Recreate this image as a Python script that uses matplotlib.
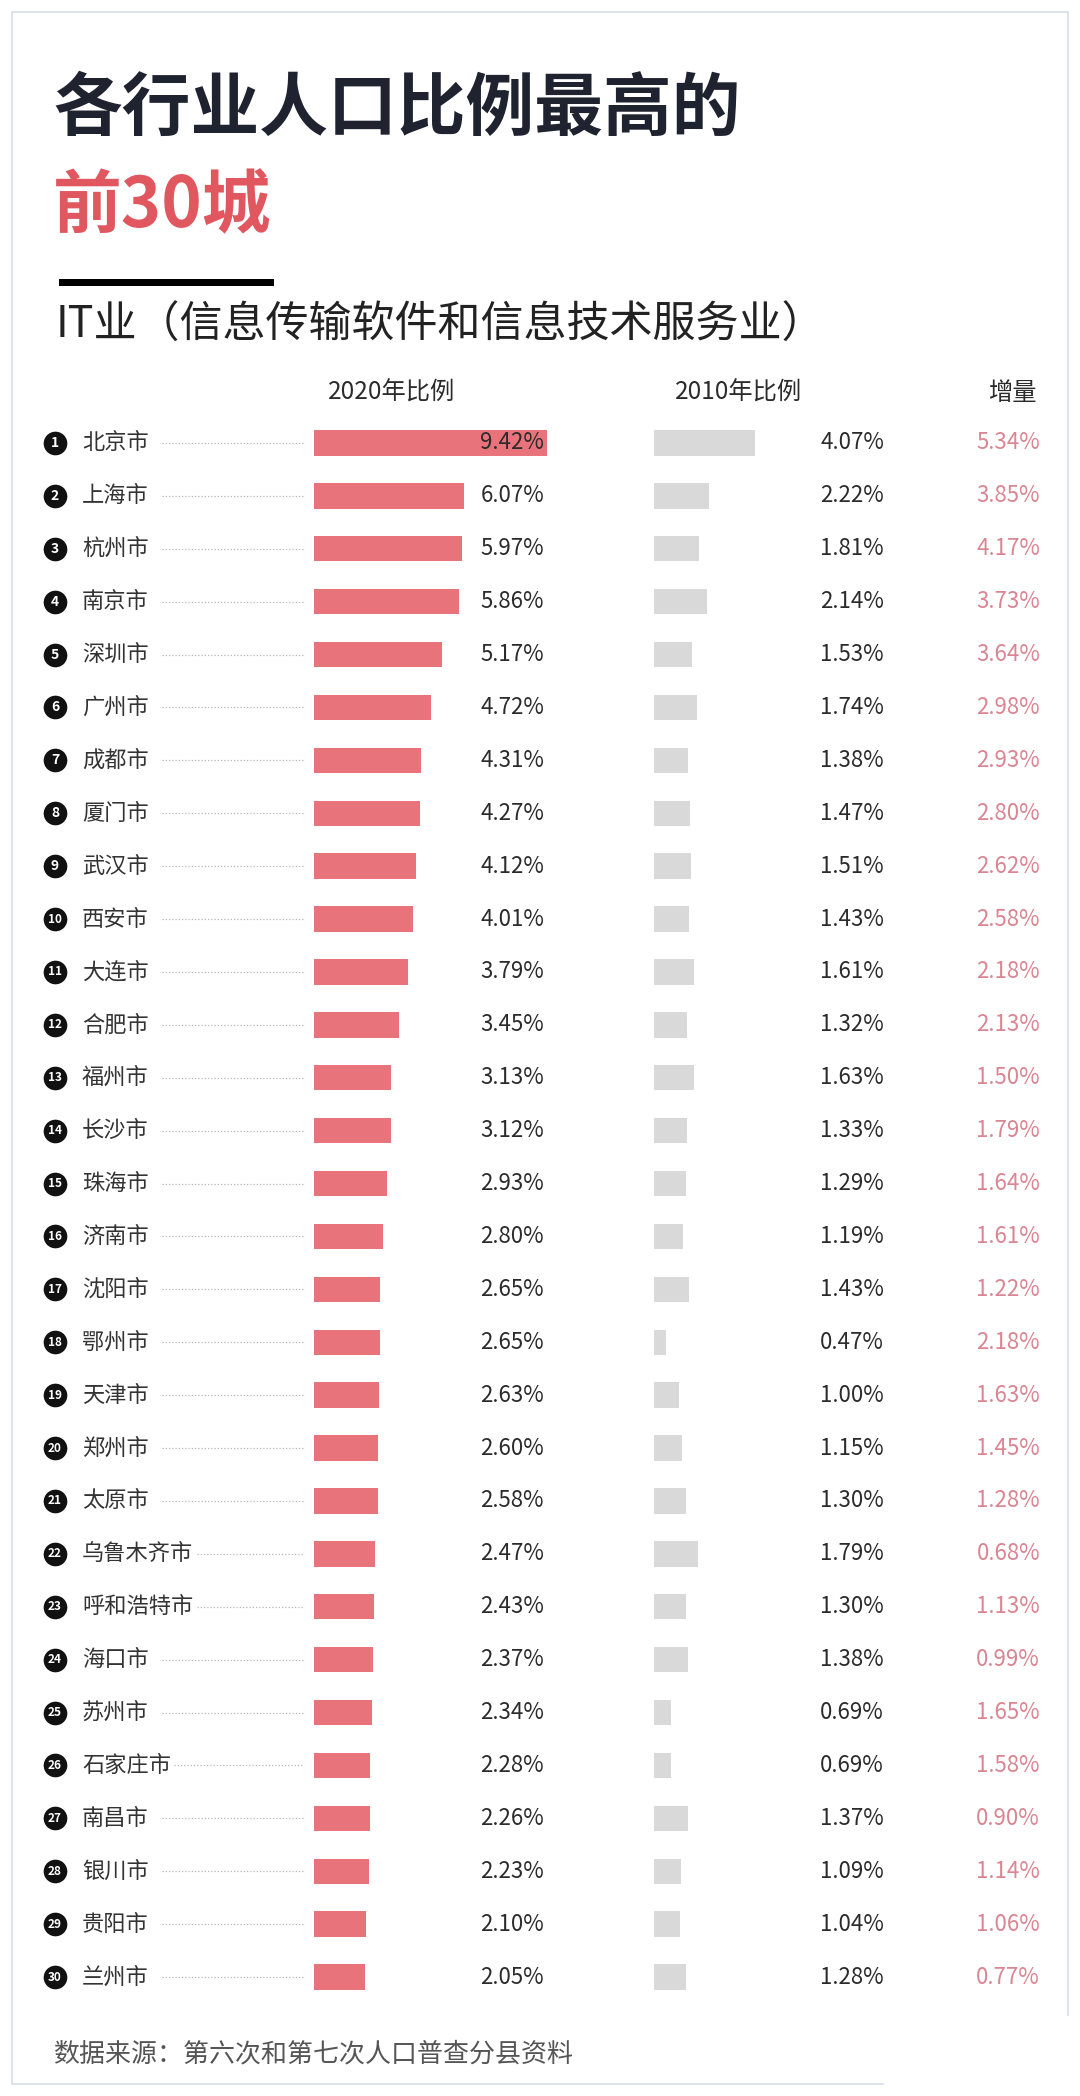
import matplotlib
matplotlib.use("Agg")
import matplotlib.pyplot as plt
from matplotlib.patches import Rectangle

plt.rcParams['font.family'] = ['Noto Sans CJK SC', 'DejaVu Sans']

# data
cities = ["北京市", "上海市", "杭州市", "南京市", "深圳市", "广州市", "成都市", "厦门市",
          "武汉市", "西安市", "大连市", "合肥市", "福州市", "长沙市", "珠海市", "济南市",
          "沈阳市", "鄂州市", "天津市", "郑州市", "太原市", "乌鲁木齐市", "呼和浩特市",
          "海口市", "苏州市", "石家庄市", "南昌市", "银川市", "贵阳市", "兰州市"]
share_2020 = [9.42, 6.07, 5.97, 5.86, 5.17, 4.72, 4.31, 4.27, 4.12, 4.01,
              3.79, 3.45, 3.13, 3.12, 2.93, 2.80, 2.65, 2.65, 2.63, 2.60,
              2.58, 2.47, 2.43, 2.37, 2.34, 2.28, 2.26, 2.23, 2.10, 2.05]
share_2010 = [4.07, 2.22, 1.81, 2.14, 1.53, 1.74, 1.38, 1.47, 1.51, 1.43,
              1.61, 1.32, 1.63, 1.33, 1.29, 1.19, 1.43, 0.47, 1.00, 1.15,
              1.30, 1.79, 1.30, 1.38, 0.69, 0.69, 1.37, 1.09, 1.04, 1.28]
increase = [5.34, 3.85, 4.17, 3.73, 3.64, 2.98, 2.93, 2.80, 2.62, 2.58,
            2.18, 2.13, 1.50, 1.79, 1.64, 1.61, 1.22, 2.18, 1.63, 1.45,
            1.28, 0.68, 1.13, 0.99, 1.65, 1.58, 0.90, 1.14, 1.06, 0.77]
col_headers = ["2020年比例", "2010年比例", "增量"]

RED = "#e8737b"
GREY = "#d9d9d9"
PINK = "#d98592"
DARK = "#2b2b2b"

W, H = 1080, 2096
fig = plt.figure(figsize=(W / 100, H / 100), dpi=100)
fig.patch.set_facecolor("white")

# full-page canvas in pixel coordinates
canvas = fig.add_axes([0, 0, 1, 1])
canvas.set_xlim(0, W)
canvas.set_ylim(H, 0)
canvas.axis("off")

# thin frame around the card
frame_c = "#d3e2e5"
canvas.plot([12, 1068], [12, 12], color=frame_c, lw=1.2)
canvas.plot([12, 12], [12, 2084], color=frame_c, lw=1.2)
canvas.plot([1068, 1068], [12, 2015], color=frame_c, lw=1.2)
canvas.plot([12, 883], [2084, 2084], color=frame_c, lw=1.2)

# titles
canvas.text(53, 110, "各行业人口比例最高的", fontsize=49.5, fontweight="bold",
            color="#1f2330", va="center", ha="left")
canvas.text(53, 207, "前30城", fontsize=49.5, fontweight="bold",
            color="#e0575f", va="center", ha="left")
canvas.add_patch(Rectangle((59, 279), 215, 7, color="black", lw=0))
canvas.text(56, 326, "IT业（信息传输软件和信息技术服务业）", fontsize=31,
            fontweight="medium", color="#222222", va="center", ha="left")

# column headers
for label, x in zip(col_headers, [392, 739, 1012]):
    canvas.text(x, 393, label, fontsize=17.5, fontweight="medium", color=DARK,
                va="center", ha="center")

# footer
canvas.text(53, 2054, "数据来源：第六次和第七次人口普查分县资料", fontsize=18.7,
            color="#555555", va="center", ha="left")

# rows: axes sharing the same row positions
row_top, row_bottom = 443 - 26.5, 1977 + 26.5
y0 = 1 - row_bottom / H
hgt = (row_bottom - row_top) / H
n = len(cities)
idx = list(range(n))
px_per_pct = 24.75
span = 10

ax20 = fig.add_axes([314 / W, y0, span * px_per_pct / W, hgt])
ax20.barh(idx, share_2020, height=0.48, color=RED, left=0)
ax20.set_xlim(0, span)
ax20.set_ylim(n - 0.5, -0.5)
ax20.axis("off")

ax10 = fig.add_axes([654 / W, y0, span * px_per_pct / W, hgt])
ax10.barh(idx, share_2010, height=0.48, color=GREY, left=0)
ax10.set_xlim(0, span)
ax10.set_ylim(n - 0.5, -0.5)
ax10.axis("off")

rows = fig.add_axes([0, y0, 1, hgt])
rows.set_xlim(0, W)
rows.set_ylim(n - 0.5, -0.5)
rows.axis("off")
rows.set_zorder(5)
rows.patch.set_visible(False)

rows.scatter([55] * n, idx, s=290, color="#111111", zorder=3, lw=0)
for i, name in enumerate(cities):
    rank = str(i + 1)
    rows.text(55, i, rank, fontsize=10 if len(rank) == 1 else 8.5,
              fontweight="bold", color="white", ha="center", va="center", zorder=4)
    rows.text(82, i, name, fontsize=16, color="#333333", ha="left", va="center")
    dot_start = max(162, 82 + len(name) * 22.5 + 2)
    rows.plot([dot_start, 303], [i, i], color="#b8b8b8", lw=0.9,
              linestyle=(0, (1, 1.6)))
    rows.text(544, i, f"{share_2020[i]:.2f}%", fontsize=16, color=DARK,
              ha="right", va="center")
    rows.text(884, i, f"{share_2010[i]:.2f}%", fontsize=16, color=DARK,
              ha="right", va="center")
    rows.text(1040, i, f"{increase[i]:.2f}%", fontsize=16, color=PINK,
              ha="right", va="center")

plt.savefig("out.png", dpi=100, facecolor="white")
